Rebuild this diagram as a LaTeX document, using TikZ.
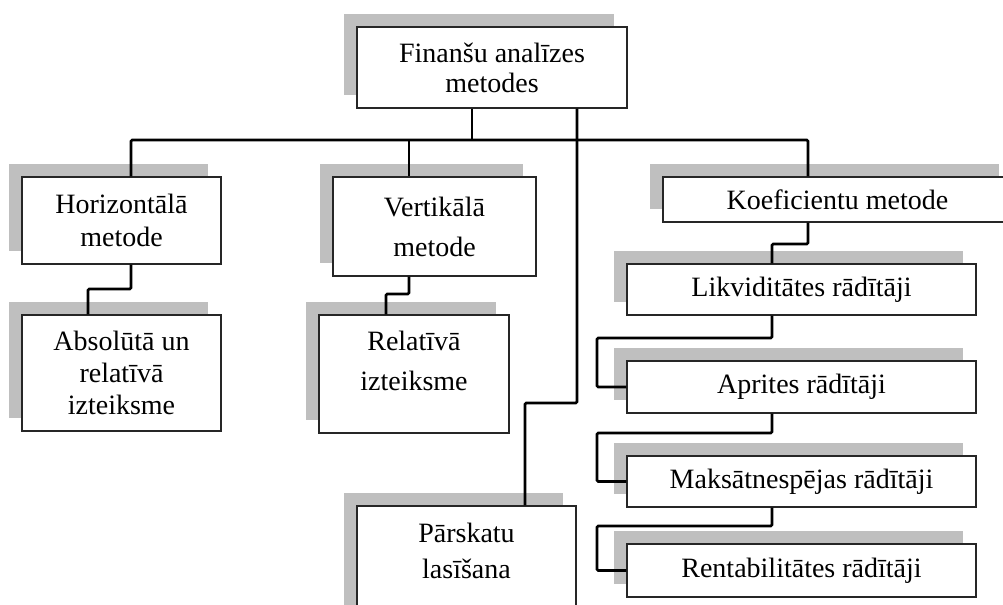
\documentclass[tikz,border=0pt]{standalone}
\usepackage{fontspec}
\setmainfont{Liberation Serif}
\usetikzlibrary{shadows}

\begin{document}
\begin{tikzpicture}[
    x=0.75pt, y=-0.75pt,
    box/.style={rectangle, draw=black!85, line width=1pt, fill=white, align=center, inner sep=2pt,
        font=\fontsize{21}{24}\selectfont,
        drop shadow={shadow xshift=-10pt, shadow yshift=10pt, fill=black!25, opacity=1}},
    boxsize/.style 2 args={minimum width=#1*0.75pt, minimum height=#2*0.75pt},
    link/.style={draw=black, line width=2pt, rounded corners=1pt}
]
\useasboundingbox (0,0) rectangle (1003,604);
\clip (0,0) rectangle (1003,604);

% METODES
\node[box, boxsize={270}{81}] (fin) at (492,67.5) {Finanšu analīzes\\[-1.5pt]metodes};
\node[box, boxsize={199}{87}] (hor) at (121.5,220.5) {Horizontālā\\[1pt]metode};
\node[box, boxsize={199}{116}] (abs) at (121.5,373) {Absolūtā un\\relatīvā\\izteiksme};
\node[box, boxsize={203}{99}] (vert) at (434.5,226.5) {Vertikālā\\[6pt]metode};
\node[box, boxsize={190}{118}] (rel) at (414,374) {Relatīvā\\[6pt]izteiksme\\[-4pt]\mbox{}};
\node[box, boxsize={219}{118}] (par) at (466.5,565) {Pārskatu\\[3pt]lasīšana\\[-2pt]\mbox{}};

% KOEFICIENTI
\node[box, boxsize={349}{45}] (koef) at (837.5,199.5) {Koeficientu metode};
\node[box, boxsize={349}{51}] (likv) at (801.5,289.5) {Likviditātes rādītāji};
\node[box, boxsize={349}{52}] (apr) at (801.5,387) {Aprites rādītāji};
\node[box, boxsize={349}{51}] (maks) at (801.5,481.5) {Maksātnespējas rādītāji};
\node[box, boxsize={349}{53}] (rent) at (801.5,570.5) {Rentabilitātes rādītāji};

% savienojumi
\coordinate (b1) at (131,140);
\coordinate (b2) at (409,140);
\coordinate (b3) at (472,140);
\coordinate (b4) at (808,140);
\draw[link] (b1 |- hor.north) -- (b1) -- (b4) -- (b4 |- koef.north);
\draw[link] (b2) -- (b2 |- vert.north);
\draw[link] (b3 |- fin.south) -- (b3);

\coordinate (p1) at (577,403);
\coordinate (p2) at (525,403);
\draw[link] (p1 |- fin.south) -- (p1) -- (p2) -- (p2 |- par.north);

\coordinate (h1) at (131,289);
\coordinate (h2) at (88,289);
\draw[link] (h1 |- hor.south) -- (h1) -- (h2) -- (h2 |- abs.north);

\coordinate (v1) at (409,294);
\coordinate (v2) at (386,294);
\draw[link] (v1 |- vert.south) -- (v1) -- (v2) -- (v2 |- rel.north);

\coordinate (k1) at (808,244);
\coordinate (k2) at (772,244);
\draw[link] (k1 |- koef.south) -- (k1) -- (k2) -- (k2 |- likv.north);

\coordinate (c1) at (597,338);
\coordinate (c2) at (597,433);
\coordinate (c3) at (597,526);
\foreach \a/\b/\c in {likv/apr/c1, apr/maks/c2, maks/rent/c3}
    \draw[link] (k2 |- \a.south) |- (\c) |- (\b.west);

\end{tikzpicture}
\end{document}
